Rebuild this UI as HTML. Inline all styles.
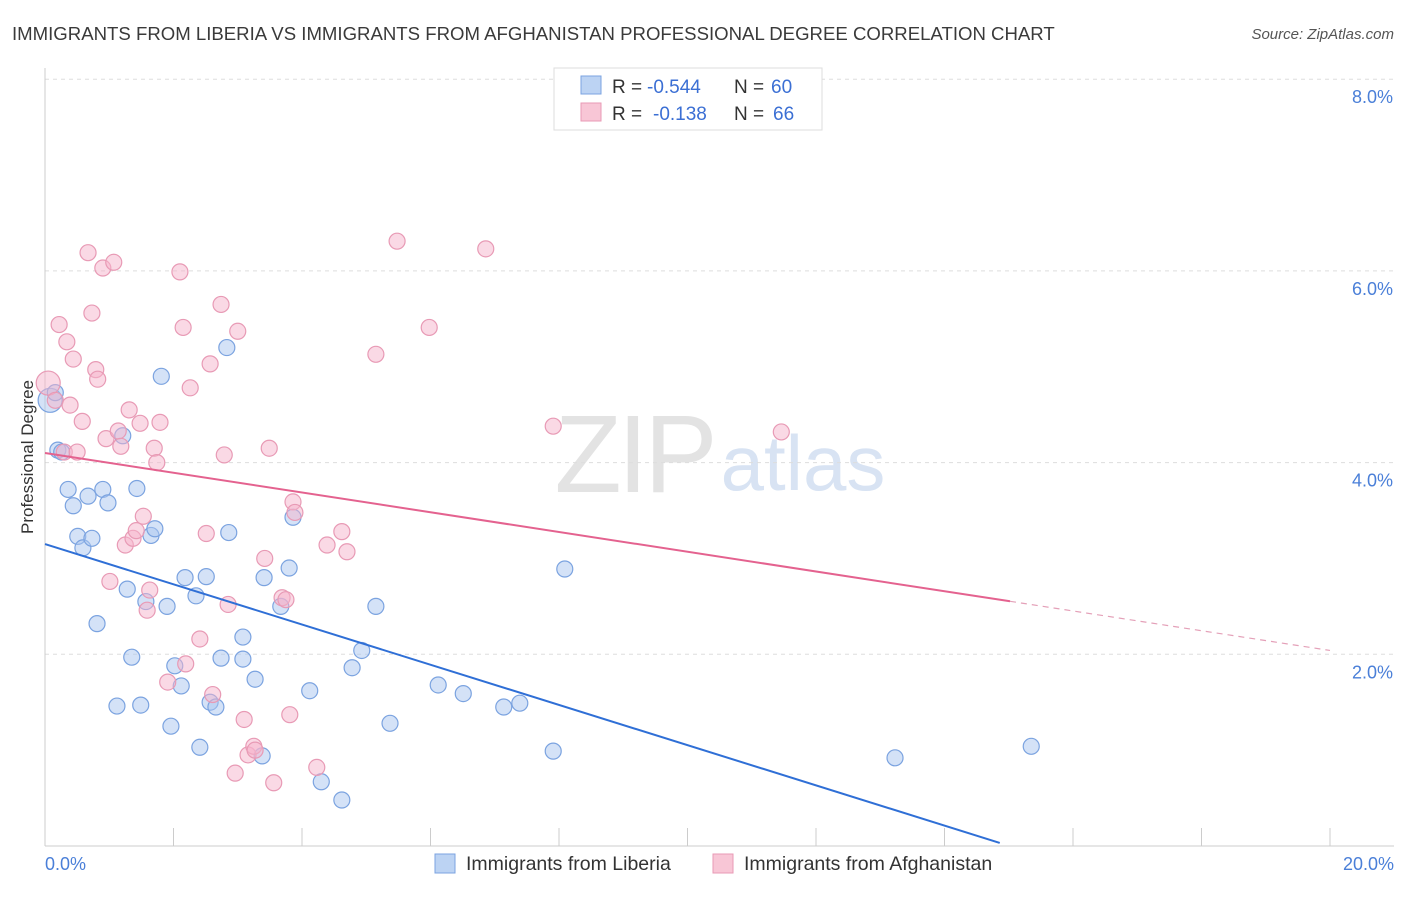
<!DOCTYPE html>
<html><head><meta charset="utf-8"><style>
body{margin:0;background:#fff;font-family:"Liberation Sans",sans-serif;}
svg text{font-family:"Liberation Sans",sans-serif;}
</style></head><body>
<svg id="chart" width="1406" height="892" viewBox="0 0 1406 892">
<text x="12" y="40" font-size="18.6" fill="#3a3a3a">IMMIGRANTS FROM LIBERIA VS IMMIGRANTS FROM AFGHANISTAN PROFESSIONAL DEGREE CORRELATION CHART</text>
<text x="1394" y="39" font-size="15" fill="#555" text-anchor="end" font-style="italic">Source: ZipAtlas.com</text>
<g>
<text x="634" y="492" font-size="110" fill="#e3e3e3" text-anchor="middle" font-family="Liberation Serif" letter-spacing="-4">ZIP</text>
<text x="803" y="490" font-size="78" fill="#d8e3f3" text-anchor="middle">atlas</text>
</g>
<g id="grid"></g><g id="axes"></g><g id="pts"></g><g id="lines"></g>
<text transform="translate(33,457) rotate(-90)" font-size="17" fill="#333" text-anchor="middle">Professional Degree</text>
<g>
<rect x="554" y="68" width="268" height="62" fill="#fff" stroke="#ddd"/>
<rect x="581" y="76" width="20" height="18" fill="#bcd3f3" stroke="#7ba3e0"/>
<rect x="581" y="103" width="20" height="18" fill="#f8c6d6" stroke="#e89ab5"/>
<text x="612" y="93" font-size="19" fill="#333">R =</text>
<text x="647" y="93" font-size="19" fill="#3b6fd4">-0.544</text>
<text x="734" y="93" font-size="19" fill="#333">N =</text>
<text x="771" y="93" font-size="19" fill="#3b6fd4">60</text>
<text x="612" y="120" font-size="19" fill="#333">R =</text>
<text x="653" y="120" font-size="19" fill="#3b6fd4">-0.138</text>
<text x="734" y="120" font-size="19" fill="#333">N =</text>
<text x="773" y="120" font-size="19" fill="#3b6fd4">66</text>
</g>
<g>
<rect x="435" y="854" width="20" height="19" fill="#bcd3f3" stroke="#7ba3e0"/>
<text x="466" y="870" font-size="19.5" fill="#333">Immigrants from Liberia</text>
<rect x="713" y="854" width="20" height="19" fill="#f8c6d6" stroke="#e89ab5"/>
<text x="744" y="870" font-size="19.5" fill="#333">Immigrants from Afghanistan</text>
</g>
</svg>
<script>
const yTicks=[2,4,6,8];
const yTickLabels=["2.0%","4.0%","6.0%","8.0%"];
const xTicks=[0,2,4,6,8,10,12,14,16,18,20];
const blueX=[0.08,0.16,0.20,0.26,0.36,0.44,0.51,0.59,0.67,0.73,0.81,0.90,0.98,1.12,1.21,1.28,1.35,1.43,1.49,1.57,1.65,1.71,1.81,1.90,1.96,2.02,2.12,2.18,2.35,2.41,2.51,2.57,2.66,2.74,2.83,2.86,3.08,3.08,3.27,3.38,3.41,3.67,3.80,3.86,4.12,4.30,4.62,4.78,4.93,5.15,5.37,6.12,6.51,7.14,7.39,7.91,8.09,13.23,15.35];
const blueY=[4.65,4.73,4.13,4.11,3.72,3.55,3.23,3.11,3.65,3.21,2.32,3.72,3.58,1.46,4.28,2.68,1.97,3.73,1.47,2.55,3.24,3.31,4.90,2.50,1.25,1.88,1.67,2.80,2.61,1.03,2.81,1.50,1.45,1.96,5.20,3.27,2.18,1.95,1.74,0.94,2.80,2.50,2.90,3.43,1.62,0.67,0.48,1.86,2.04,2.50,1.28,1.68,1.59,1.45,1.49,0.99,2.89,0.92,1.04];
const pinkX=[0.05,0.16,0.22,0.30,0.34,0.39,0.44,0.50,0.58,0.67,0.73,0.79,0.82,0.90,0.95,1.01,1.07,1.14,1.18,1.25,1.31,1.37,1.42,1.48,1.53,1.59,1.63,1.70,1.74,1.79,1.91,2.10,2.15,2.19,2.26,2.41,2.51,2.57,2.61,2.74,2.79,2.85,2.96,3.00,3.10,3.16,3.25,3.42,3.49,3.56,3.69,3.75,3.81,3.86,3.89,4.23,4.39,4.62,4.70,5.15,5.48,5.98,6.86,7.91,11.46,3.27];
const pinkY=[4.83,4.65,5.44,4.11,5.26,4.60,5.08,4.11,4.43,6.19,5.56,4.97,4.87,6.03,4.25,2.76,6.09,4.33,4.17,3.14,4.55,3.21,3.29,4.41,3.44,2.46,2.67,4.15,4.00,4.42,1.71,5.99,5.41,1.90,4.78,2.16,3.26,5.03,1.58,5.65,4.08,2.52,0.76,5.37,1.32,0.95,1.04,3.00,4.15,0.66,2.59,2.57,1.37,3.59,3.48,0.82,3.14,3.28,3.07,5.13,6.31,5.41,6.23,4.38,4.32,1.00];
const blueTrend=[3.15,-0.2098];
const pinkTrend=[4.10,-0.103];
const NS="http://www.w3.org/2000/svg";
const sx=v=>45+v*64.25, sy=v=>846-v*95.85;
function mk(tag,attrs,parent){const e=document.createElementNS(NS,tag);for(const k in attrs)e.setAttribute(k,attrs[k]);document.getElementById(parent).appendChild(e);return e;}
yTicks.forEach((t,i)=>{
 const g=mk('line',{x1:45,x2:1394,y1:sy(t),y2:sy(t),stroke:'#ddd','stroke-dasharray':'4,4'},'grid');
 
 
 const l=mk('text',{x:1393,y:sy(t)+24,'font-size':18,fill:'#4a7fd8','text-anchor':'end'},'axes');
 l.textContent=yTickLabels[i];
 
 
});
const ax=mk('line',{x1:45,x2:1394,y1:846,y2:846,stroke:'#ccc'},'axes');


const ay=mk('line',{x1:45,x2:45,y1:68,y2:846,stroke:'#ccc'},'axes');


xTicks.forEach(t=>{const e=mk('line',{x1:sx(t),x2:sx(t),y1:828,y2:846,stroke:'#ccc'},'axes');
 
 });
const x0=mk('text',{x:45,y:870,'font-size':18,fill:'#4a7fd8'},'axes');x0.textContent='0.0%';


const x1=mk('text',{x:1394,y:870,'font-size':18,fill:'#4a7fd8','text-anchor':'end'},'axes');x1.textContent='20.0%';


function pts(X,Y,fill,stroke,name){X.forEach((x,i)=>{const c=mk('circle',{cx:sx(x),cy:sy(Y[i]),r:i==0?12:8,fill:fill,stroke:stroke,'stroke-width':1.2},'pts');
 
 });}
pts(blueX,blueY,'rgba(170,198,240,0.5)','#7ba3e0','liberia-point');
pts(pinkX,pinkY,'rgba(246,180,204,0.5)','#e89ab5','afghanistan-point');
const bl=mk('line',{x1:sx(0),y1:sy(blueTrend[0]),x2:sx(14.86),y2:sy(blueTrend[0]+blueTrend[1]*14.86),stroke:'#2f6fd6','stroke-width':2},'lines');


const pl=mk('line',{x1:sx(0),y1:sy(pinkTrend[0]),x2:sx(15.02),y2:sy(pinkTrend[0]+pinkTrend[1]*15.02),stroke:'#e4628f','stroke-width':2},'lines');


const pd=mk('line',{x1:sx(15.02),y1:sy(pinkTrend[0]+pinkTrend[1]*15.02),x2:sx(20),y2:sy(pinkTrend[0]+pinkTrend[1]*20),stroke:'#e4a0b8','stroke-width':1.2,'stroke-dasharray':'6,5'},'lines');


</script>
</body></html>
